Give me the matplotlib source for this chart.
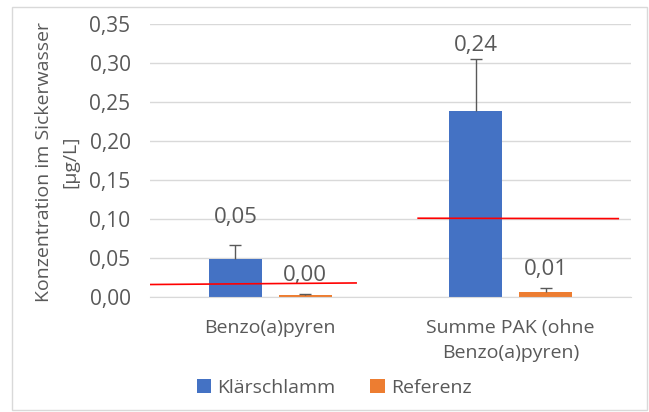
import matplotlib.pyplot as plt
import numpy as np
from matplotlib.patches import Rectangle
from matplotlib.ticker import FuncFormatter

plt.rcParams.update({"font.family": ["Open Sans", "DejaVu Sans"], "font.size": 14})

kategorien = ["Benzo(a)pyren", "Summe PAK (ohne\nBenzo(a)pyren)"]
klaerschlamm = [0.049, 0.238]
klaerschlamm_err = [0.018, 0.067]
referenz = [0.003, 0.0065]
referenz_err = [0.0008, 0.005]
# Grenzwertlinien (x in Kategorie-Einheiten, y in ug/L)
grenz1_x = [-0.5, 0.357]
grenz1_y = [0.016, 0.018]
grenz2_x = [0.615, 1.447]
grenz2_y = [0.101, 0.1005]

blau = '#4472C4'
orange = '#ED7D31'
grau = '#595959'

fig = plt.figure(figsize=(6.49, 4.12), dpi=100)
ax = fig.add_axes([150/649, 1-297/412, 481/649, 273/412])

x = np.arange(len(kategorien))
b = 0.22
off = 0.145
ax.bar(x-off, klaerschlamm, b, color=blau, label='Klärschlamm', zorder=2)
ax.bar(x+off, referenz, b, color=orange, label='Referenz', zorder=2)
for xs, ys, es in [(x-off, klaerschlamm, klaerschlamm_err), (x+off, referenz, referenz_err)]:
    eb = ax.errorbar(xs, ys, yerr=[np.zeros(2), es], fmt='none', ecolor=grau,
                     elinewidth=1, capsize=4, capthick=1, zorder=3)
    eb[1][0].set_visible(False)  # keine Kappe unten

# Beschriftungen
abst = [27, 14]
for i in range(len(x)):
    ax.annotate(f'{klaerschlamm[i]:.2f}'.replace('.', ','), (x[i]-off, klaerschlamm[i]+klaerschlamm_err[i]),
                xytext=(0, abst[i]), textcoords='offset pixels', ha='center', va='center',
                color=grau, fontsize=16)
    ax.annotate(f'{referenz[i]:.2f}'.replace('.', ','), (x[i]+off, referenz[i]+referenz_err[i]),
                xytext=(0, 19), textcoords='offset pixels', ha='center', va='center',
                color=grau, fontsize=16)

ax.plot(grenz1_x, grenz1_y, color='red', lw=1.2, zorder=4)
ax.plot(grenz2_x, grenz2_y, color='red', lw=1.2, zorder=4)

ax.set_xlim(-0.5, 1.5)
ax.set_ylim(0, 0.35)
ax.set_yticks(np.arange(0, 0.351, 0.05))
ax.yaxis.set_major_formatter(FuncFormatter(lambda v, p: f'{v:.2f}'.replace('.', ',')))
ax.set_xticks(x)
ax.set_xticklabels(kategorien, linespacing=1.45)
ax.tick_params(axis='y', length=0, pad=14, colors=grau, labelsize=15)
ax.tick_params(axis='x', length=0, pad=16, colors=grau, labelsize=14)
ax.grid(axis='y', color='#D9D9D9', lw=1, zorder=0)
for s in ['top', 'right', 'left']:
    ax.spines[s].set_visible(False)
ax.spines['bottom'].set_color('#D9D9D9')

fig.text(57/649, 1-162/412, 'Konzentration im Sickerwasser\n[µg/L]', rotation=90,
         ha='center', va='center', multialignment='center', color=grau, fontsize=14,
         linespacing=1.6)

fig.legend(loc='center', bbox_to_anchor=(334/649, 1-388/412), ncol=2, frameon=False,
           handlelength=0.75, handleheight=0.75, columnspacing=1.8, handletextpad=0.3,
           labelcolor=grau, fontsize=14)

fig.patches.append(Rectangle((12/649, 2/412), 635/649, 403/412, transform=fig.transFigure,
                             fill=False, edgecolor='#D9D9D9', lw=1))

fig.savefig('out.png', dpi=100)
